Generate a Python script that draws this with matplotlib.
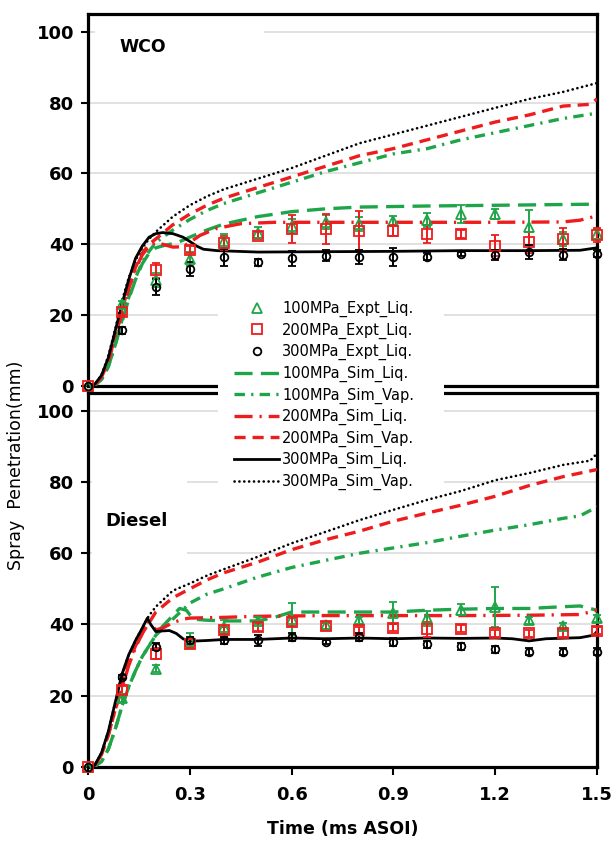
import numpy as np
import matplotlib
matplotlib.use('Agg')
from matplotlib import pyplot as plt
from matplotlib.lines import Line2D
from matplotlib.patches import Rectangle

GREEN = '#1fa549'
RED = '#ee1c1c'
BLACK = '#000000'

# Experimental liquid penetration (mm), sampled every 0.1 ms
expt_t = [0, 0.1, 0.2, 0.3, 0.4, 0.5, 0.6, 0.7, 0.8, 0.9, 1.0, 1.1, 1.2, 1.3, 1.4, 1.5]

wco_100_expt = [0, 23, 29.8, 35.9, 41, 43.3, 45.2, 46.2, 45.7, 46.6, 46.8, 48.5, 48.5, 44.8, 41.5, 42.9]
wco_100_err = [0, 1, 2, 2, 2, 1.5, 2, 2, 2, 1.5, 2, 2.5, 1.5, 5, 2, 1.5]
wco_200_expt = [0, 21, 32.6, 38.4, 40.3, 42.4, 44.3, 44.3, 43.8, 43.8, 42.9, 42.9, 39.6, 40.5, 41.5, 42.7]
wco_200_err = [0, 1, 2, 1, 2, 1, 4, 4.2, 5.5, 1.5, 2.5, 1, 3, 3, 3, 2]
wco_300_expt = [0, 15.7, 27.9, 33, 36.3, 34.9, 36, 36.8, 36.5, 36.5, 36.5, 37.3, 37, 37.7, 37.1, 37.3]
wco_300_err = [0, 1, 2.2, 2, 2.5, 1, 2, 1.5, 2, 2.5, 1, 0.5, 1.5, 2, 1.5, 1]

die_100_expt = [0, 19.3, 27.6, 35.5, 39.3, 41, 41.5, 39.8, 41.2, 43.2, 41.7, 44.2, 44.9, 41.2, 39.5, 41.7]
die_100_err = [0, 1, 1, 2, 2, 1, 4.5, 1, 1, 3, 2, 1.5, 5.5, 1, 1, 1]
die_200_expt = [0, 21.6, 31.8, 34.6, 38.4, 39.3, 40.7, 39.5, 38.4, 39.1, 38.6, 38.8, 37.5, 37.5, 37.6, 38.2]
die_200_err = [0, 1, 1.5, 1, 1, 1, 1, 1, 1, 1, 2, 1, 1, 1, 1, 1]
die_300_expt = [0, 25.3, 33.7, 35.6, 35.6, 35.6, 36.5, 35.1, 36.5, 35.1, 34.5, 33.9, 33, 32.3, 32.3, 32.3]
die_300_err = [0, 0.5, 1, 1, 1, 1.5, 1, 0.5, 1, 1, 1, 1, 1, 1, 1, 1]

# Simulated penetration curves, WCO
wco_100_liq_t = [0, 0.02, 0.04, 0.06, 0.08, 0.1, 0.12, 0.14, 0.16, 0.18, 0.2, 0.23, 0.26, 0.3, 0.35, 0.4, 0.5, 0.6, 0.7, 0.8, 1.0, 1.2, 1.48, 1.5]
wco_100_liq = [0, 0.2, 1.8, 5.5, 11.5, 18, 24.5, 30, 34.5, 37.5, 39, 39.8, 40.3, 42, 44, 45.7, 47.8, 49.2, 50, 50.5, 50.8, 51, 51.3, 52]
wco_100_vap_t = [0, 0.02, 0.04, 0.06, 0.08, 0.1, 0.12, 0.14, 0.16, 0.18, 0.2, 0.25, 0.3, 0.35, 0.4, 0.5, 0.6, 0.7, 0.8, 0.9, 1.0, 1.1, 1.2, 1.3, 1.4, 1.5]
wco_100_vap = [0, 0.2, 1.8, 5.5, 11.5, 18.5, 25, 30.5, 35, 38, 40.5, 44, 47, 49.5, 51.5, 54.5, 57.5, 60.5, 63, 65.5, 67, 69.5, 71.5, 73.5, 75.5, 77]
wco_200_liq_t = [0, 0.02, 0.04, 0.06, 0.08, 0.1, 0.12, 0.14, 0.16, 0.18, 0.2, 0.22, 0.25, 0.28, 0.3, 0.33, 0.38, 0.45, 0.55, 0.8, 1.2, 1.4, 1.45, 1.5]
wco_200_liq = [0, 0.3, 2.5, 7, 14, 20.5, 27.5, 33, 37, 39.5, 40.5, 40, 39.2, 39.3, 40.5, 42.5, 44.5, 45.8, 46.2, 46.2, 46.2, 46.3, 46.8, 48]
wco_200_vap_t = [0, 0.02, 0.04, 0.06, 0.08, 0.1, 0.12, 0.14, 0.16, 0.18, 0.2, 0.25, 0.3, 0.35, 0.4, 0.5, 0.6, 0.7, 0.8, 0.9, 1.0, 1.1, 1.2, 1.3, 1.4, 1.48, 1.5]
wco_200_vap = [0, 0.3, 2.5, 7, 14, 21.5, 28, 33.5, 37.5, 40, 41.5, 45.5, 48.5, 51, 53, 56, 59, 62, 65, 67, 69.5, 72, 74.5, 76.5, 79, 79.5, 81]
wco_300_liq_t = [0, 0.02, 0.04, 0.06, 0.08, 0.1, 0.12, 0.14, 0.16, 0.18, 0.2, 0.22, 0.25, 0.28, 0.3, 0.32, 0.34, 0.38, 0.5, 0.7, 0.9, 1.1, 1.3, 1.45, 1.5]
wco_300_liq = [0, 0.5, 3, 8, 15.5, 23, 30, 36, 39.5, 42, 43, 43.3, 43, 42, 40.8, 39.5, 38.6, 38.2, 37.8, 37.9, 38, 38.2, 38.2, 38.3, 39]
wco_300_vap_t = [0, 0.02, 0.04, 0.06, 0.08, 0.1, 0.12, 0.14, 0.16, 0.18, 0.2, 0.25, 0.3, 0.35, 0.4, 0.5, 0.6, 0.7, 0.8, 0.9, 1.0, 1.1, 1.2, 1.3, 1.4, 1.5]
wco_300_vap = [0, 0.5, 3.2, 8.5, 16, 24, 30.5, 35.5, 39, 41.5, 43.5, 47.8, 51, 53.5, 55.5, 58.5, 61.5, 65, 68.5, 71, 73.5, 76, 78.5, 81, 83, 85.5]

# Simulated penetration curves, Diesel
die_100_liq_t = [0, 0.02, 0.04, 0.06, 0.08, 0.1, 0.12, 0.14, 0.16, 0.18, 0.2, 0.22, 0.25, 0.27, 0.29, 0.31, 0.35, 0.4, 0.5, 0.55, 0.6, 0.7, 0.8, 0.9, 1.0, 1.1, 1.2, 1.3, 1.4, 1.45, 1.5]
die_100_liq = [0, 0.2, 1.5, 5, 10.5, 17, 22.5, 27, 31, 34, 37, 39.5, 42.5, 44.5, 44, 41.5, 41.2, 41, 41, 42, 43.5, 43.5, 43.5, 43.5, 44, 44.3, 44.5, 44.5, 45, 45.2, 44]
die_100_vap_t = [0, 0.02, 0.04, 0.06, 0.08, 0.1, 0.12, 0.14, 0.16, 0.18, 0.2, 0.25, 0.3, 0.35, 0.4, 0.5, 0.6, 0.7, 0.8, 0.9, 1.0, 1.1, 1.2, 1.3, 1.4, 1.45, 1.5]
die_100_vap = [0, 0.2, 1.5, 5, 10.5, 17, 22.5, 27, 31, 34, 37, 41.5, 46, 48.5, 50, 53.3, 56, 58, 60, 61.5, 63, 64.8, 66.5, 68, 69.8, 70.5, 73]
die_200_liq_t = [0, 0.02, 0.04, 0.06, 0.08, 0.1, 0.12, 0.14, 0.16, 0.175, 0.19, 0.2, 0.22, 0.25, 0.28, 0.3, 0.4, 0.5, 0.7, 0.9, 1.1, 1.3, 1.45, 1.5]
die_200_liq = [0, 0.4, 3.5, 9, 16, 22, 28.5, 33.5, 37.5, 41, 39.5, 38.5, 39, 40.5, 41.5, 41.8, 42, 42.3, 42.5, 42.5, 42.5, 42.6, 42.8, 44]
die_200_vap_t = [0, 0.02, 0.04, 0.06, 0.08, 0.1, 0.12, 0.14, 0.16, 0.18, 0.2, 0.25, 0.3, 0.35, 0.4, 0.5, 0.6, 0.7, 0.8, 0.9, 1.0, 1.1, 1.2, 1.3, 1.4, 1.5]
die_200_vap = [0, 0.4, 3.5, 9, 16, 23, 29.5, 34, 37.5, 40.5, 43.5, 47.5, 50, 52.5, 54.5, 57.5, 61, 63.8, 66.2, 69, 71.3, 73.5, 76, 79, 81.5, 83.5]
die_300_liq_t = [0, 0.02, 0.04, 0.06, 0.08, 0.1, 0.12, 0.14, 0.16, 0.175, 0.185, 0.2, 0.22, 0.24, 0.26, 0.28, 0.3, 0.35, 0.4, 0.5, 0.6, 0.7, 0.8, 0.9, 1.0, 1.1, 1.2, 1.25, 1.3, 1.35, 1.45, 1.49, 1.5]
die_300_liq = [0, 0.5, 4, 10, 18, 26, 31.5, 35.5, 39, 41.8, 40, 38, 38.2, 38.3, 37.5, 36, 35.3, 35.5, 35.8, 35.8, 36.2, 36, 36.2, 36, 36.2, 36.1, 36.2, 36, 35.4, 36, 36.3, 37, 38]
die_300_vap_t = [0, 0.02, 0.04, 0.06, 0.08, 0.1, 0.12, 0.14, 0.16, 0.18, 0.2, 0.25, 0.3, 0.35, 0.4, 0.5, 0.6, 0.7, 0.8, 0.9, 1.0, 1.1, 1.2, 1.3, 1.4, 1.48, 1.5]
die_300_vap = [0, 0.5, 4, 10, 18, 26, 31.5, 35.5, 39, 42.5, 45, 49.5, 51.5, 53.7, 55.5, 59, 62.8, 66, 69.3, 72.2, 75, 77.5, 80.5, 82.5, 84.8, 86, 88]

y_ticks = [0, 20, 40, 60, 80, 100]
x_ticks = [0, 0.3, 0.6, 0.9, 1.2, 1.5]
x_tick_labels = ['0', '0.3', '0.6', '0.9', '1.2', '1.5']

plt.rcParams['lines.scale_dashes'] = False

# line styles (dash lengths in points)
STYLES = {
    '100_liq': dict(color=GREEN, lw=2.4, dashes=(13, 6)),
    '100_vap': dict(color=GREEN, lw=2.4, dashes=(7.5, 4.5, 1.6, 4.5)),
    '200_liq': dict(color=RED, lw=2.4, dashes=(13, 5, 1.6, 5)),
    '200_vap': dict(color=RED, lw=2.4, dashes=(8, 5)),
    '300_liq': dict(color=BLACK, lw=2.0, linestyle='-'),
    '300_vap': dict(color=BLACK, lw=1.9, dashes=(0.1, 3.4), dash_capstyle='round'),
}
MARKERS = {
    '100': dict(marker='^', ms=7.5, color=GREEN),
    '200': dict(marker='s', ms=6.5, color=RED),
    '300': dict(marker='o', ms=5.5, color=BLACK),
}


def draw_panel(ax, sims, expts):
    for key, (t, v) in sims.items():
        ax.plot(t, v, zorder=3, **STYLES[key])
    for key, (v, err) in expts.items():
        m = MARKERS[key]
        ax.errorbar(expt_t, v, yerr=err, fmt=m['marker'], ms=m['ms'], mfc='none',
                    mec=m['color'], mew=1.3, ecolor=m['color'], elinewidth=1.4,
                    capsize=3, capthick=1.4, zorder=4, clip_on=False)

    ax.set_xlim(0, 1.5)
    ax.set_ylim(0, 105)
    ax.set_yticks(y_ticks)
    ax.set_yticklabels([str(v) for v in y_ticks], fontsize=13, fontweight='bold')
    for v in y_ticks[1:]:
        ax.axhline(v, color='#d9d9d9', lw=1.1, zorder=1)
    for side in ['left', 'right', 'top', 'bottom']:
        ax.spines[side].set_linewidth(2.3)
    ax.tick_params(axis='y', direction='out', length=5, width=1.5, pad=5)


fig = plt.figure(figsize=(6.14, 8.42), dpi=100)
ax_top = fig.add_axes([0.1433, 0.5416, 0.829, 0.4418])
ax_bot = fig.add_axes([0.1433, 0.0891, 0.829, 0.4442])

draw_panel(ax_top,
           {'100_vap': (wco_100_vap_t, wco_100_vap), '200_vap': (wco_200_vap_t, wco_200_vap),
            '300_vap': (wco_300_vap_t, wco_300_vap), '100_liq': (wco_100_liq_t, wco_100_liq),
            '200_liq': (wco_200_liq_t, wco_200_liq), '300_liq': (wco_300_liq_t, wco_300_liq)},
           {'100': (wco_100_expt, wco_100_err), '200': (wco_200_expt, wco_200_err),
            '300': (wco_300_expt, wco_300_err)})
draw_panel(ax_bot,
           {'100_vap': (die_100_vap_t, die_100_vap), '200_vap': (die_200_vap_t, die_200_vap),
            '300_vap': (die_300_vap_t, die_300_vap), '100_liq': (die_100_liq_t, die_100_liq),
            '200_liq': (die_200_liq_t, die_200_liq), '300_liq': (die_300_liq_t, die_300_liq)},
           {'100': (die_100_expt, die_100_err), '200': (die_200_expt, die_200_err),
            '300': (die_300_expt, die_300_err)})

ax_top.set_xticks([])
ax_bot.set_xticks(x_ticks)
ax_bot.set_xticklabels(x_tick_labels, fontsize=13, fontweight='bold')
ax_bot.tick_params(axis='x', direction='out', length=6, width=1.5, pad=8)

# panel labels sit in white text boxes that mask the gridlines behind them
ax_top.add_patch(Rectangle((0.02, 88), 0.5, 15, facecolor='white', edgecolor='none', zorder=2))
ax_top.text(0.094, 95.8, 'WCO', fontsize=12.5, fontweight='bold', va='center', zorder=2.5)
ax_bot.add_patch(Rectangle((0.012, 58), 0.28, 25, facecolor='white', edgecolor='none', zorder=2))
ax_bot.text(0.05, 69, 'Diesel', fontsize=13, fontweight='bold', va='center', zorder=2.5)

fig.text(343 / 614, 1 - 829 / 842, 'Time (ms ASOI)', fontsize=12.5, fontweight='bold',
         ha='center', va='center')
fig.text(16 / 614, 1 - 465 / 842, 'Spray  Penetration(mm)', fontsize=12.5,
         rotation=90, ha='center', va='center')

# white block behind the shared legend
fig.add_artist(Rectangle((218 / 614, 1 - 494 / 842), 226 / 614, 200 / 842,
                         transform=fig.transFigure, facecolor='white',
                         edgecolor='none', zorder=4))

handles = [
    Line2D([], [], linestyle='none', marker='^', ms=7.5, mfc='none', mec=GREEN, mew=1.3),
    Line2D([], [], linestyle='none', marker='s', ms=6.5, mfc='none', mec=RED, mew=1.3),
    Line2D([], [], linestyle='none', marker='o', ms=5.5, mfc='none', mec=BLACK, mew=1.3),
    Line2D([], [], **STYLES['100_liq']),
    Line2D([], [], **STYLES['100_vap']),
    Line2D([], [], **STYLES['200_liq']),
    Line2D([], [], **STYLES['200_vap']),
    Line2D([], [], **STYLES['300_liq']),
    Line2D([], [], **STYLES['300_vap']),
]
labels = ['100MPa_Expt_Liq.', '200MPa_Expt_Liq.', '300MPa_Expt_Liq.',
          '100MPa_Sim_Liq.', '100MPa_Sim_Vap.', '200MPa_Sim_Liq.',
          '200MPa_Sim_Vap.', '300MPa_Sim_Liq.', '300MPa_Sim_Vap.']
leg = fig.legend(handles, labels, loc='upper left', bbox_to_anchor=(234 / 614, 1 - 301 / 842),
                 frameon=False, fontsize=10.5, handlelength=3.1, handletextpad=0.2,
                 labelspacing=0.37, borderpad=0, borderaxespad=0)
leg.set_zorder(5)

fig.savefig('out.png', dpi=100)
